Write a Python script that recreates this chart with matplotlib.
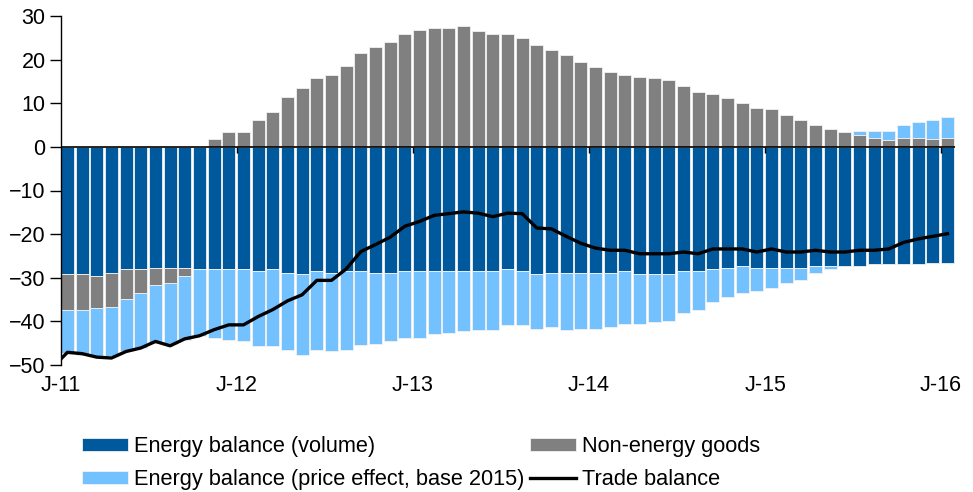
import numpy as np
import matplotlib
matplotlib.use('Agg')
import matplotlib.pyplot as plt

plt.rcParams['font.family'] = ['Liberation Sans', 'DejaVu Sans']

# monthly values, Jan 2011 .. Jan 2016
volume = [-29.1, -29.1, -29.7, -28.8, -28.0, -28.0, -27.7, -27.7, -27.7, -28.0,
          -28.0, -28.0, -28.0, -28.4, -28.0, -28.8, -29.1, -28.4, -28.8, -28.4,
          -28.4, -28.8, -28.8, -28.4, -28.4, -28.4, -28.4, -28.4, -28.4, -28.4,
          -28.0, -28.4, -29.1, -28.8, -28.8, -28.8, -28.8, -28.8, -28.4, -29.1,
          -29.1, -29.1, -28.4, -28.4, -28.0, -27.7, -27.3, -27.7, -27.7, -27.7,
          -27.7, -27.3, -27.3, -27.3, -27.3, -26.9, -26.9, -26.9, -26.9, -26.6, -26.6]

nonenergy = [-8.2, -8.2, -7.3, -7.8, -6.8, -5.4, -3.9, -3.6, -1.8, 0.0,
             1.8, 3.3, 3.3, 6.1, 7.9, 11.5, 13.6, 15.7, 16.4, 18.5,
             21.5, 22.9, 24.0, 25.8, 26.8, 27.2, 27.2, 27.6, 26.5, 25.8,
             25.8, 25.0, 23.3, 22.2, 21.1, 19.4, 18.2, 17.2, 16.4, 16.1,
             15.7, 15.3, 14.0, 12.5, 12.1, 11.1, 10.0, 8.9, 8.6, 7.2,
             6.1, 5.0, 4.0, 3.3, 2.8, 2.1, 1.5, 2.1, 2.1, 1.8, 2.1]

price = [-10.0, -10.3, -11.0, -11.4, -12.1, -12.7, -13.4, -14.0, -14.7, -15.4,
         -15.8, -16.2, -16.6, -17.2, -17.6, -17.8, -18.5, -18.2, -18.1, -18.2,
         -17.1, -16.3, -15.6, -15.3, -15.3, -14.6, -14.3, -13.9, -13.6, -13.6,
         -12.9, -12.5, -12.6, -12.5, -13.2, -12.9, -12.9, -12.5, -12.2, -11.5,
         -11.1, -10.7, -9.7, -9.0, -7.6, -6.8, -6.1, -5.4, -4.7, -3.6,
         -2.9, -1.5, -0.7, 0.0, 0.8, 1.5, 2.1, 2.9, 3.6, 4.3, 4.7]

# trade balance, Dec 2010 .. Jan 2016
trade = [-50.5,
         -47.1, -47.4, -48.2, -48.4, -46.9, -46.1, -44.6, -45.6, -44.0, -43.3,
         -41.9, -40.8, -40.8, -38.9, -37.3, -35.3, -33.9, -30.6, -30.6, -28.0,
         -24.0, -22.4, -20.7, -18.2, -17.1, -15.7, -15.3, -14.9, -15.2, -16.0,
         -15.2, -15.3, -18.6, -18.8, -20.5, -22.1, -23.2, -23.7, -23.7, -24.5,
         -24.5, -24.5, -24.1, -24.5, -23.4, -23.4, -23.4, -24.1, -23.4, -24.1,
         -24.1, -23.7, -24.1, -24.1, -23.7, -23.7, -23.4, -21.9, -21.1, -20.5, -19.9]

year_labels = ['J-11', 'J-12', 'J-13', 'J-14', 'J-15', 'J-16']

c_volume = '#00599d'
c_price = '#73c1ff'
c_nonenergy = '#808080'

volume = np.array(volume)
nonenergy = np.array(nonenergy)
price = np.array(price)
x = np.arange(len(volume))

ne_bottom = np.where(nonenergy >= 0, 0, volume)
pr_bottom = np.where(price >= 0, np.maximum(nonenergy, 0),
                     volume + np.minimum(nonenergy, 0))

fig = plt.figure(figsize=(9.73, 4.92), dpi=100)
ax = fig.add_axes([61 / 973, 1 - 365 / 492, 894 / 973, 349 / 492])

w = 0.88
kw = dict(width=w, align='edge', edgecolor='#f2f2f2', linewidth=0.6)
ax.bar(x, volume, color=c_volume, label='Energy balance (volume)', **kw)
ax.bar(x, price, bottom=pr_bottom, color=c_price,
       label='Energy balance (price effect, base 2015)', **kw)
ax.bar(x, nonenergy, bottom=ne_bottom, color=c_nonenergy,
       label='Non-energy goods', **kw)

tx = np.arange(-1, len(volume)) + w / 2
ax.plot(tx, trade, color='black', lw=2.4, label='Trade balance', zorder=5)

ax.axhline(0, color='black', lw=1.2, zorder=4)
years = np.arange(0, len(volume), 12)
ax.vlines(years[1:], -1.4, 0, color='black', lw=1, zorder=4)

ax.set_xlim(0, 60.95)
ax.set_ylim(-50, 30)
ax.set_yticks(np.arange(-50, 31, 10))
ax.set_xticks(years)
ax.set_xticklabels(year_labels)
ax.tick_params(axis='x', length=0, pad=7, labelsize=15.5)
ax.tick_params(axis='y', direction='out', length=8, width=1, labelsize=15.5, pad=3)

for s in ['top', 'right', 'bottom']:
    ax.spines[s].set_visible(False)
ax.spines['left'].set_linewidth(1)

h, l = ax.get_legend_handles_labels()
order = [1, 2, 3, 0]
fig.legend([h[i] for i in order], [l[i] for i in order],
           loc='upper left', bbox_to_anchor=(82 / 973, 1 - 436 / 492),
           ncol=2, frameon=False, fontsize=15.7, handlelength=2.1,
           handleheight=0.55, handletextpad=0.3, columnspacing=0.25,
           labelspacing=0.55, borderpad=0, borderaxespad=0)

fig.savefig('out.png', dpi=100)
